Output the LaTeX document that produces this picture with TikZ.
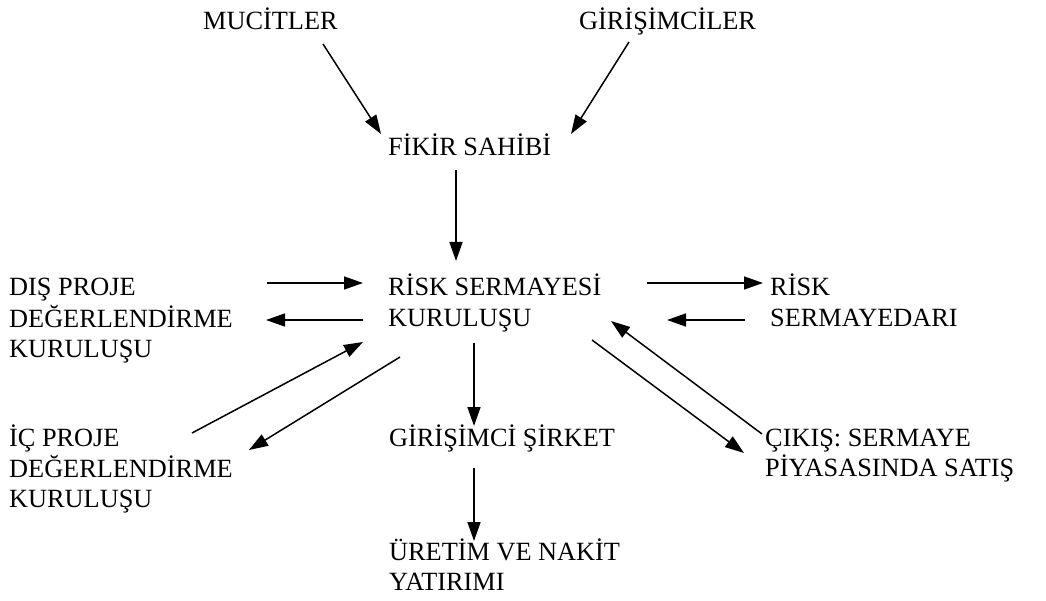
\documentclass[tikz,border=0pt]{standalone}
\usepackage{fontspec}
\setmainfont{Liberation Serif}
\usetikzlibrary{arrows.meta}
\newcommand{\mlines}[1]{\begin{tabular}[t]{@{}l@{}}#1\end{tabular}}
\begin{document}
\begin{tikzpicture}[x=1pt,y=-1pt,
  lbl/.style={anchor=base west, inner sep=0pt, font=\fontsize{26.3}{30.5}\selectfont},
  arr/.style={line width=1.5pt, -{Triangle[length=19pt,width=13pt]}}]
\useasboundingbox[fill=white] (0,0) rectangle (1046,601);
% labels
\node[lbl] (muc) at (203,30) {MUCİTLER};
\node[lbl] (gir) at (579,30) {GİRİŞİMCİLER};
\node[lbl] (fik) at (388,156) {FİKİR SAHİBİ};
\node[lbl] (rsk) at (388,296) {\mlines{RİSK SERMAYESİ\\KURULUŞU}};
\node[lbl] (dis) at (9,296) {\mlines{DIŞ PROJE\\DEĞERLENDİRME\\KURULUŞU}};
\node[lbl] (rsd) at (770,296) {\mlines{RİSK\\SERMAYEDARI}};
\node[lbl] (ic) at (9,446) {\mlines{İÇ PROJE\\DEĞERLENDİRME\\KURULUŞU}};
\node[lbl] (gsk) at (389,446) {GİRİŞİMCİ ŞİRKET};
\node[lbl] (cik) at (765,446) {\mlines{ÇIKIŞ: SERMAYE\\PİYASASINDA SATIŞ}};
\node[lbl] (ure) at (389,560) {\mlines{ÜRETİM VE NAKİT\\YATIRIMI}};
% connector end points
\coordinate (a1s) at (323,44);  \coordinate (a1e) at (381,134);
\coordinate (a2s) at (629,42);  \coordinate (a2e) at (571,134);
\coordinate (a3s) at (456,170); \coordinate (a3e) at (456,261);
\coordinate (a4s) at (267,283); \coordinate (a4e) at (363,283);
\coordinate (a5s) at (363,320); \coordinate (a5e) at (266,320);
\coordinate (a6s) at (192,433); \coordinate (a6e) at (363,342);
\coordinate (a7s) at (400,357); \coordinate (a7e) at (249,450);
\coordinate (a8s) at (647,283); \coordinate (a8e) at (763,283);
\coordinate (a9s) at (745,320); \coordinate (a9e) at (667,320);
\coordinate (a10s) at (762,434); \coordinate (a10e) at (611,321);
\coordinate (a11s) at (592,340); \coordinate (a11e) at (744,453);
\coordinate (a12s) at (474,343); \coordinate (a12e) at (474,426);
\coordinate (a13s) at (474,468); \coordinate (a13e) at (474,541);
% connectors
\draw[arr] (a1s) -- (a1e);
\draw[arr] (a2s) -- (a2e);
\draw[arr] (a3s) -- (a3e);
\draw[arr] (a4s) -- (a4e);
\draw[arr] (a5s) -- (a5e);
\draw[arr] (a6s) -- (a6e);
\draw[arr] (a7s) -- (a7e);
\draw[arr] (a8s) -- (a8e);
\draw[arr] (a9s) -- (a9e);
\draw[arr] (a10s) -- (a10e);
\draw[arr] (a11s) -- (a11e);
\draw[arr] (a12s) -- (a12e);
\draw[arr] (a13s) -- (a13e);
\end{tikzpicture}
\end{document}
